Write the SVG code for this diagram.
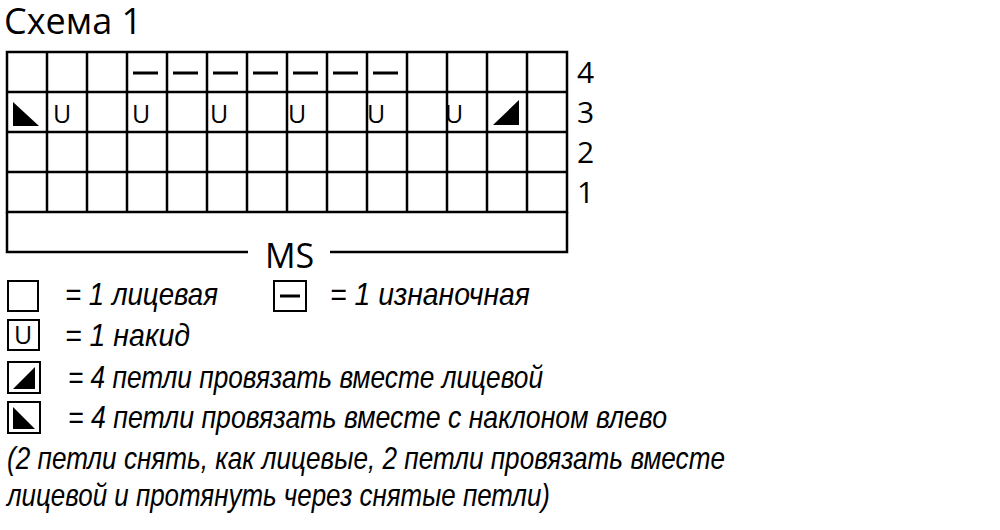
<svg xmlns="http://www.w3.org/2000/svg" width="1000" height="530" viewBox="0 0 1000 530">
<style>
.ln{stroke:#000;stroke-width:2.5;fill:none}
.dash{stroke:#000;stroke-width:3}
.hd{font-family:"Open Sans","DejaVu Sans",sans-serif;fill:#000}
.u{font-family:"Open Sans","DejaVu Sans",sans-serif;font-size:25px;fill:#000}
.lg{font-family:"Liberation Sans","Arial",sans-serif;font-style:italic;font-size:32px;fill:#000}
.bx{stroke:#000;stroke-width:2;fill:#fff}
</style>
<rect width="1000" height="530" fill="#fff"/>
<text class="hd" x="4" y="34" font-size="36">Схема 1</text>
<g id="grid">
<rect class="ln" x="7" y="52" width="560" height="160"/>
<path class="ln" d="M47 52V212M87 52V212M127 52V212M167 52V212M207 52V212M247 52V212M287 52V212M327 52V212M367 52V212M407 52V212M447 52V212M487 52V212M527 52V212M7 92H567M7 132H567M7 172H567"/>
<path class="ln" d="M7 212V252H248M330 252H567V212"/>
<text class="hd" x="265" y="268" font-size="34">MS</text>
</g>
<g id="row4">
<path class="dash" d="M133 73H158M173 73H198M213 73H238M253 73H278M293 73H318M333 73H358M373 73H398"/>
<text class="hd" x="577" y="83" font-size="30">4</text>
</g>
<g id="row3">
<polygon points="13,102 13,126 39,126" fill="#000"/>
<text class="u" x="53" y="123">U</text>
<text class="u" x="132" y="123">U</text>
<text class="u" x="210" y="123">U</text>
<text class="u" x="288" y="123">U</text>
<text class="u" x="367" y="123">U</text>
<text class="u" x="445" y="123">U</text>
<polygon points="519,100 493,125 519,125" fill="#000"/>
<text class="hd" x="577" y="123" font-size="30">3</text>
</g>
<g id="row2"><text class="hd" x="577" y="163" font-size="30">2</text></g>
<g id="row1"><text class="hd" x="577" y="203" font-size="30">1</text></g>
<g id="legend">
<rect class="bx" x="8" y="281" width="30" height="30"/>
<text class="lg" x="65" y="305" textLength="153" lengthAdjust="spacingAndGlyphs">= 1 лицевая</text>
<rect class="bx" x="274" y="281" width="32" height="30"/>
<path class="dash" d="M280 296H300"/>
<text class="lg" x="330" y="305" textLength="200" lengthAdjust="spacingAndGlyphs">= 1 изнаночная</text>
<rect class="bx" x="8" y="320" width="31" height="30"/>
<text class="u" x="14" y="344" font-size="22">U</text>
<text class="lg" x="65" y="346" textLength="125" lengthAdjust="spacingAndGlyphs">= 1 накид</text>
<rect class="bx" x="8" y="362" width="32" height="31"/>
<polygon points="35,367 13,389 35,389" fill="#000"/>
<text class="lg" x="68" y="388" textLength="475" lengthAdjust="spacingAndGlyphs">= 4 петли провязать вместе лицевой</text>
<rect class="bx" x="8" y="402" width="32" height="31"/>
<polygon points="13,407 13,429 35,429" fill="#000"/>
<text class="lg" x="68" y="428" textLength="599" lengthAdjust="spacingAndGlyphs">= 4 петли провязать вместе с наклоном влево</text>
<text class="lg" x="7" y="469" textLength="718" lengthAdjust="spacingAndGlyphs">(2 петли снять, как лицевые, 2 петли провязать вместе</text>
<text class="lg" x="7" y="506" textLength="543" lengthAdjust="spacingAndGlyphs">лицевой и протянуть через снятые петли)</text>
</g>
</svg>
